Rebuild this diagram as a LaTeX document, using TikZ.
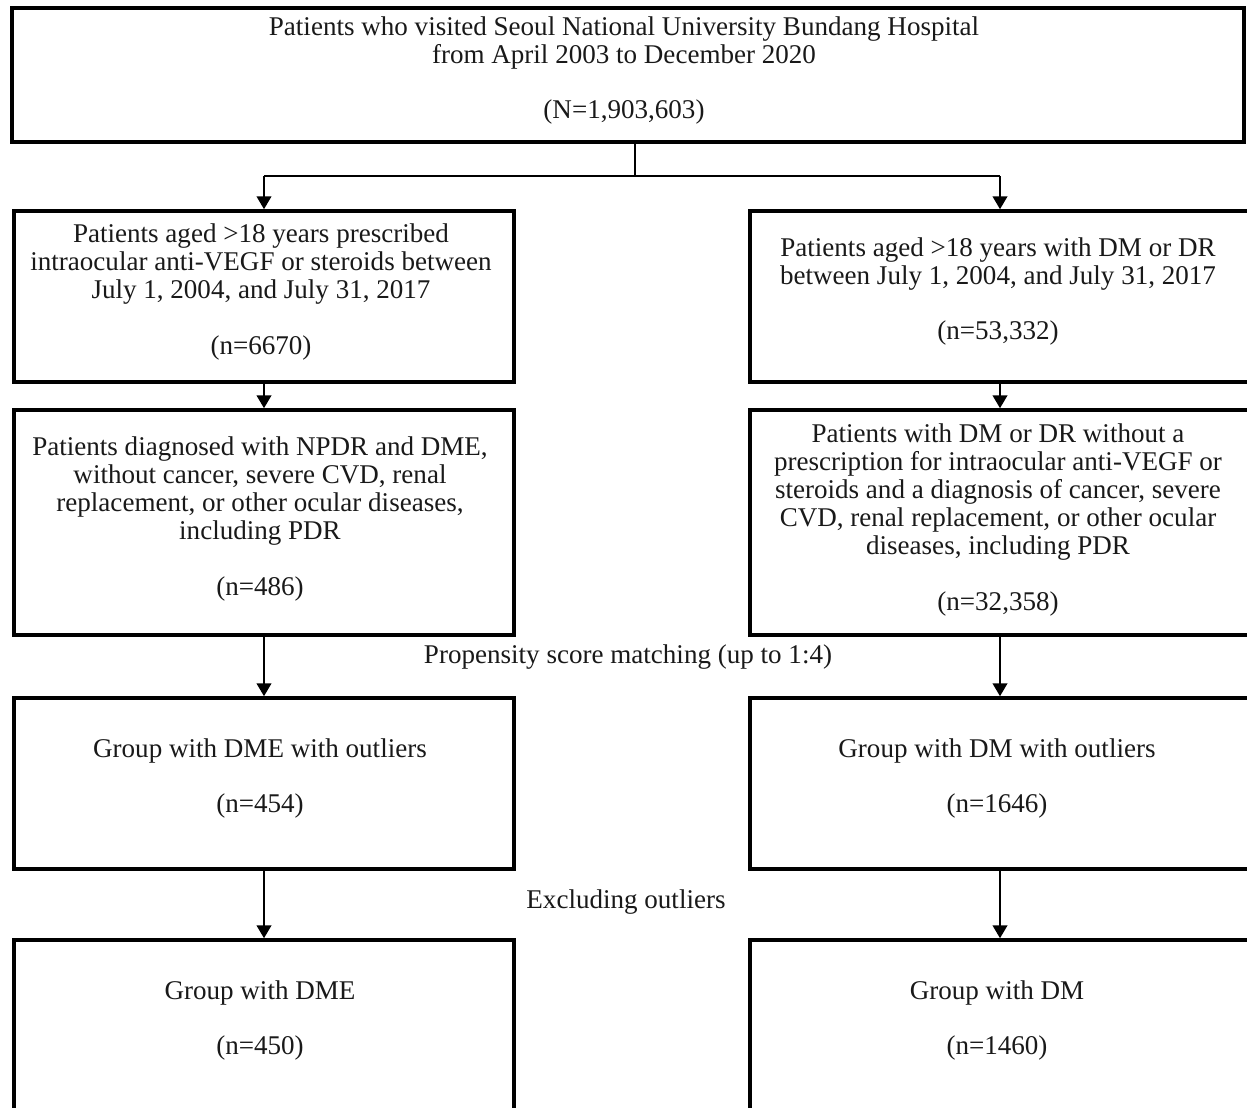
\documentclass[tikz,border=0pt]{standalone}
\usepackage{fontspec}
\setmainfont{Liberation Serif}
\usetikzlibrary{arrows.meta}
\begin{document}
\begin{tikzpicture}[x=0.02cm,y=-0.02cm,
  box/.style={draw=black,line width=2pt,minimum width=10cm,inner sep=0pt,rectangle},
  txt/.style={align=center,inner sep=0pt,font=\fontsize{15.4}{15.9}\selectfont,text=black!90},
  lbl/.style={inner sep=0pt,font=\fontsize{15.4}{15.9}\selectfont,text=black!90},
  arr/.style={line width=1.5pt,-{Triangle[length=2.6mm,width=2.9mm]}},
  ln/.style={line width=1.5pt}]
\useasboundingbox (0,0) rectangle (1247,1107);
\clip (0,0) rectangle (1247,1107);
% boxes
\node[box,minimum width=24.64cm,minimum height=2.68cm] (top) at (628,75) {};
\node[box,minimum height=3.42cm] (l1) at (264,296.5) {};
\node[box,minimum height=3.42cm] (r1) at (1000,296.5) {};
\node[box,minimum height=4.5cm] (l2) at (264,522.5) {};
\node[box,minimum height=4.5cm] (r2) at (1000,522.5) {};
\node[box,minimum height=3.42cm] (l3) at (264,783.5) {};
\node[box,minimum height=3.42cm] (r3) at (1000,783.5) {};
\node[box,minimum height=5cm] (l4) at (264,1065) {};
\node[box,minimum height=5cm] (r4) at (1000,1065) {};
% texts
\node[txt] (ttop) at (624,70.5) {Patients who visited Seoul National University Bundang Hospital\\from April 2003 to December 2020\\~\\(N=1,903,603)};
\node[txt] (tl1) at (261,292) {Patients aged >18 years prescribed\\intraocular anti-VEGF or steroids between\\July 1, 2004, and July 31, 2017\\~\\(n=6670)};
\node[txt] (tr1) at (998,291.5) {Patients aged >18 years with DM or DR\\between July 1, 2004, and July 31, 2017\\~\\(n=53,332)};
\node[txt] (tl2) at (260,519) {Patients diagnosed with NPDR and DME,\\without cancer, severe CVD, renal\\replacement, or other ocular diseases,\\including PDR\\~\\(n=486)};
\node[txt] (tr2) at (998,520) {Patients with DM or DR without a\\prescription for intraocular anti-VEGF or\\steroids and a diagnosis of cancer, severe\\CVD, renal replacement, or other ocular\\diseases, including PDR\\~\\(n=32,358)};
\node[txt] (tl3) at (260,778.5) {Group with DME with outliers\\~\\(n=454)};
\node[txt] (tr3) at (997,778.5) {Group with DM with outliers\\~\\(n=1646)};
\node[txt] (tl4) at (260,1020.5) {Group with DME\\~\\(n=450)};
\node[txt] (tr4) at (997,1020.5) {Group with DM\\~\\(n=1460)};
\node[lbl] (psm) at (628,657) {Propensity score matching (up to 1:4)};
\node[lbl] (exc) at (626,902) {Excluding outliers};
% connectors
\coordinate (j) at (635,176);
\draw[ln] (top.south -| j) -- (j);
\draw[ln] (l1.north |- j) -- (r1.north |- j);
\draw[arr] (l1.north |- j) -- (l1.north);
\draw[arr] (r1.north |- j) -- (r1.north);
\draw[arr] (l1.south) -- (l2.north);
\draw[arr] (r1.south) -- (r2.north);
\draw[arr] (l2.south) -- (l3.north);
\draw[arr] (r2.south) -- (r3.north);
\draw[arr] (l3.south) -- (l4.north);
\draw[arr] (r3.south) -- (r4.north);
\end{tikzpicture}
\end{document}
